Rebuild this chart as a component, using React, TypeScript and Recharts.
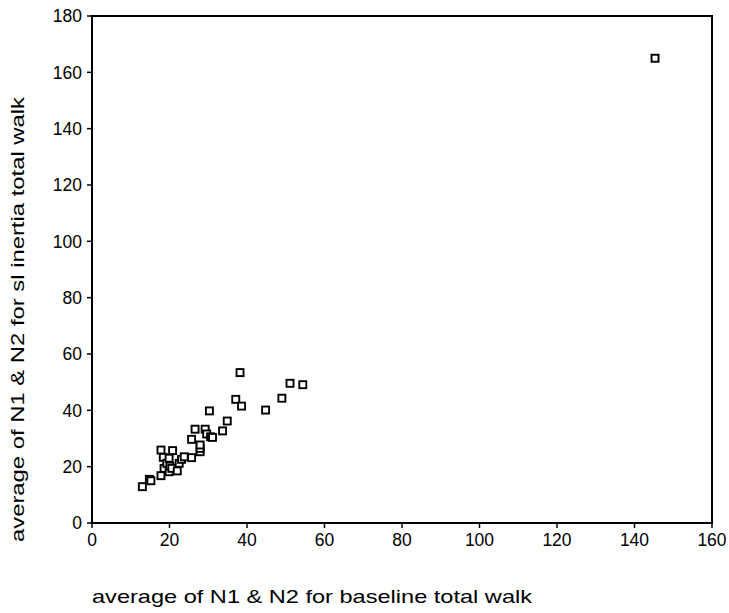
import React from 'react';
import { ScatterChart, Scatter, XAxis, YAxis, ReferenceArea } from 'recharts';

// average of N1 & N2: baseline total walk (x) vs sl inertia total walk (y)
const baselineWalk = [
  13.0, 14.8, 15.2, 17.8, 17.8, 18.4, 18.6, 19.3, 19.9, 19.9, 20.1, 20.6, 20.8,
  22.0, 22.5, 23.1, 23.8, 25.7, 25.7, 26.6, 27.9, 27.9, 27.9, 29.2, 29.6, 30.3,
  30.6, 31.1, 33.7, 34.9, 37.1, 38.2, 38.6, 44.8, 49.0, 51.1, 54.4, 145.3,
];
const inertiaWalk = [
  12.9, 15.5, 15.0, 16.8, 25.9, 23.3, 19.4, 21.2, 18.2, 23.0, 20.2, 19.4, 25.7,
  18.5, 21.2, 22.6, 23.5, 23.2, 29.7, 33.3, 25.3, 26.5, 27.7, 33.3, 31.6, 39.8,
  30.6, 30.4, 32.7, 36.2, 43.9, 53.4, 41.5, 40.1, 44.3, 49.6, 49.1, 165.0,
];
const xTicks = [0, 20, 40, 60, 80, 100, 120, 140, 160];
const yTicks = [0, 20, 40, 60, 80, 100, 120, 140, 160, 180];

const points = baselineWalk.map((x, i) => ({ x, y: inertiaWalk[i] }));

const FONT = '"Liberation Sans", Arial, sans-serif';

const HollowSquare = (props: any) => {
  const { cx, cy } = props;
  if (cx == null || cy == null) return null;
  const s = 7;
  return (
    <rect
      x={cx - s / 2}
      y={cy - s / 2}
      width={s}
      height={s}
      fill="#fff"
      stroke="#000"
      strokeWidth={1.9}
    />
  );
};

export default function App() {
  return (
    <div style={{ position: 'absolute', left: 0, top: 0, background: '#fff' }}>
      <ScatterChart
        width={729}
        height={613}
        margin={{ top: 16, right: 17, bottom: 0, left: 0 }}
        style={{ fontFamily: FONT }}
      >
        <ReferenceArea
          x1={0}
          x2={160}
          y1={0}
          y2={180}
          fill="none"
          stroke="#000"
          strokeWidth={2}
          strokeOpacity={1}
        />
        <XAxis
          type="number"
          dataKey="x"
          domain={[0, 160]}
          ticks={xTicks}
          interval={0}
          height={90}
          tickSize={5}
          tickMargin={6}
          axisLine={{ stroke: '#000', strokeWidth: 2 }}
          tickLine={{ stroke: '#000', strokeWidth: 1.5 }}
          tick={{ fill: '#000', fontSize: 17.5, fontFamily: FONT }}
          label={{
            content: (p: any) => {
              const vb = p.viewBox || { x: 92, y: 523 };
              return (
                <text
                  x={vb.x}
                  y={vb.y + 80}
                  fill="#000"
                  fontSize={19}
                  fontFamily={FONT}
                  textLength={440}
                  lengthAdjust="spacingAndGlyphs"
                >
                  average of N1 &amp; N2 for baseline total walk
                </text>
              );
            },
          }}
        />
        <YAxis
          type="number"
          dataKey="y"
          domain={[0, 180]}
          ticks={yTicks}
          interval={0}
          width={92}
          tickSize={5}
          tickMargin={5}
          axisLine={{ stroke: '#000', strokeWidth: 2 }}
          tickLine={{ stroke: '#000', strokeWidth: 1.5 }}
          tick={{ fill: '#000', fontSize: 17.5, fontFamily: FONT }}
          label={{
            content: (p: any) => {
              const vb = p.viewBox || { x: 0, y: 16, height: 507 };
              const cx = vb.x + 24;
              const cy = vb.y + vb.height / 2 + 50;
              return (
                <text
                  x={cx}
                  y={cy}
                  transform={`rotate(-90 ${cx} ${cy})`}
                  textAnchor="middle"
                  fill="#000"
                  fontSize={19}
                  fontFamily={FONT}
                  textLength={445}
                  lengthAdjust="spacingAndGlyphs"
                >
                  average of N1 &amp; N2 for sl inertia total walk
                </text>
              );
            },
          }}
        />
        <Scatter
          data={points}
          shape={<HollowSquare />}
          isAnimationActive={false}
        />
      </ScatterChart>
    </div>
  );
}
